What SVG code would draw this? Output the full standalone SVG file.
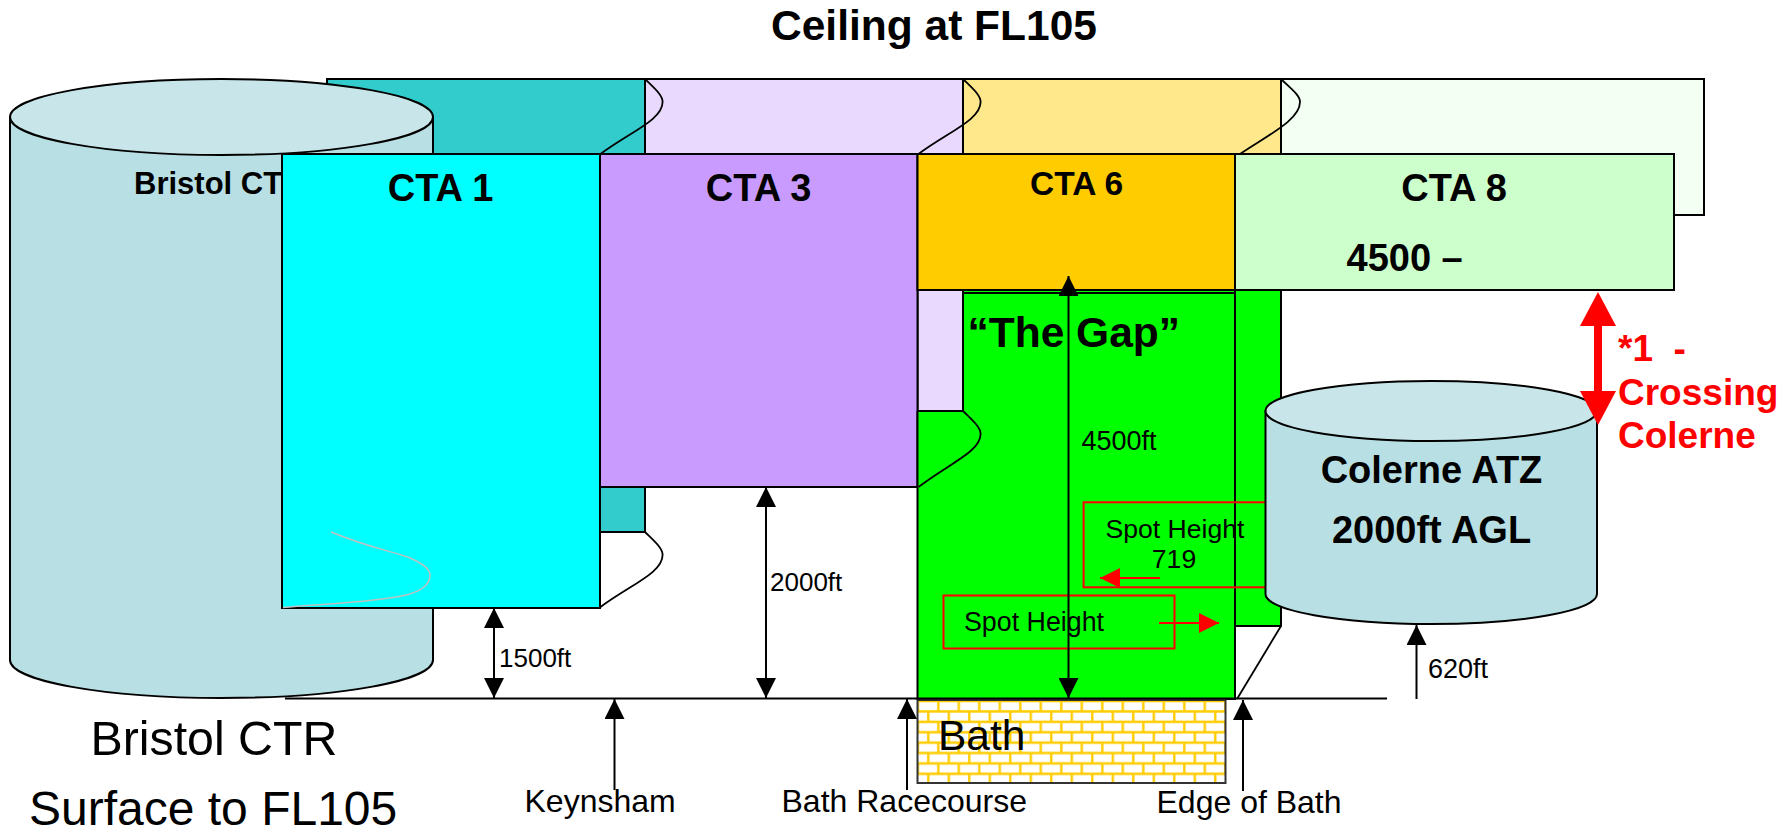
<svg xmlns="http://www.w3.org/2000/svg" width="1789" height="834" viewBox="0 0 1789 834">
<style>
text{font-family:"Liberation Sans",Arial,sans-serif;fill:#000}
.b{font-weight:bold}
.m{text-anchor:middle}
.s{stroke:#000;stroke-width:2}
.t{stroke:#000;stroke-width:1.8;fill:none}
.l{stroke:#000;stroke-width:2;fill:none}
.r{stroke:#f00;stroke-width:2;fill:none}
.red{fill:#f00;font-weight:bold;font-size:37px}
</style>
<defs>
<marker id="ah" viewBox="0 0 20 20" refX="20" refY="10" markerWidth="20" markerHeight="20" markerUnits="userSpaceOnUse" orient="auto-start-reverse"><path d="M0 0L20 10L0 20Z" fill="#000"/></marker>
<marker id="rh" viewBox="0 0 20 20" refX="20" refY="10" markerWidth="20" markerHeight="20" markerUnits="userSpaceOnUse" orient="auto-start-reverse"><path d="M0 0L20 10L0 20Z" fill="#f00"/></marker>
<marker id="bh" viewBox="0 0 34 36" refX="10" refY="18" markerWidth="34" markerHeight="36" markerUnits="userSpaceOnUse" orient="auto-start-reverse"><path d="M0 0L34 18L0 36Z" fill="#f00"/></marker>
<pattern id="brick" width="20.5" height="20.8" patternUnits="userSpaceOnUse" x="912.5" y="705">
<rect width="20.5" height="20.8" fill="#fff"/>
<path d="M0 6.500H20.500M0 16.900H20.500M5.300 0V6.500M5.300 16.900V20.800M15.800 6.500V16.900" stroke="#fc0" stroke-width="2.400" fill="none"/>
</pattern>
</defs>
<g id="title"><text class="b m" x="934" y="40" font-size="42.500">Ceiling at FL105</text></g>
<g id="back-cta">
<rect x="327" y="79" width="318" height="453" fill="#3cc" class="s"/>
<rect x="645" y="79" width="318" height="332" fill="#ead9ff" class="s"/>
<rect x="963" y="79" width="318" height="76" fill="#ffe88c" class="s"/>
<rect x="1281" y="79" width="423" height="136" fill="#f2fff2" class="s"/>
<rect x="917.5" y="290" width="46" height="121" fill="#ead9ff" class="s"/>
<rect x="963" y="290" width="318" height="336" fill="#0f0" class="s"/>
<path d="M645 79C654 88 662.600 95 662.600 102C662.600 120 630 132 600.500 154" class="t"/>
<path d="M963 79C972 88 980.600 95 980.600 102C980.600 120 948 132 918.500 154" class="t"/>
<path d="M1281 79C1290 88 1300 95 1300 102C1300 120 1268 135 1240 154" class="t"/>
<path d="M645 532C654 541 662.600 548 662.600 555C662.600 573 630 585 600.500 607" class="t"/>
<path d="M1281 626L1237 699" class="t"/>
</g>
<g id="bristol-cylinder">
<path d="M10 117V660A211.500 38 0 0 0 433 660V117Z" fill="#b8dfe3" class="s"/>
<ellipse cx="221.500" cy="117" rx="211.500" ry="38" fill="#c8e6e9" class="s"/>
<text class="b" x="134" y="193.500" font-size="31">Bristol CT</text>
</g>
<g id="cta1"><rect x="282" y="154" width="318" height="454" fill="#0ff" class="s"/>
<path d="M331 532C370 548 395 552 410 558C424 564 430 570 430 575C430 586 418 592 406 595C370 603 320 604 283 607.500" stroke="#c0c0c0" stroke-width="1.500" fill="none"/>
<text class="b m" x="440.500" y="201" font-size="38">CTA 1</text></g>
<g id="cta3"><rect x="600" y="154" width="317.500" height="333" fill="#c99bff" class="s"/><text class="b m" x="758.600" y="201" font-size="38">CTA 3</text></g>
<g id="gap"><rect x="917.500" y="411" width="46" height="288" fill="#0f0"/>
<rect x="963" y="293" width="272" height="406" fill="#0f0"/>
<path d="M917.500 411V699H1235V290" class="l"/>
<path d="M963 411C972 420 980.600 427 980.600 434C980.600 452 948 464 918.500 487" class="t"/>
<path d="M963 411H917.500M963 293H1235M963 293V411" class="l"/>
<text class="b" x="967.500" y="347" font-size="42.500">“The Gap”</text></g>
<g id="cta6"><rect x="917.500" y="154" width="317.500" height="136" fill="#fc0" class="s"/><text class="b m" x="1076.500" y="195" font-size="33.500">CTA 6</text></g>
<g id="cta8"><rect x="1235" y="154" width="439" height="136" fill="#cfc" class="s"/><text class="b m" x="1454" y="201" font-size="38">CTA 8</text><text class="b" x="1346.500" y="271" font-size="38">4500 –</text></g>
<g id="spot-719"><rect x="1083.600" y="502.300" width="190" height="85" class="r"/><text class="m" x="1175" y="538" font-size="26.600">Spot Height</text><text class="m" x="1174" y="568" font-size="26.600">719</text></g>
<g id="spot"><rect x="943.500" y="595.500" width="231" height="53" class="r"/><text x="964" y="631" font-size="26.800">Spot Height</text></g>
<g id="colerne">
<path d="M1265.500 411V594A165.750 30 0 0 0 1597 594V411Z" fill="#b8dfe3" class="s"/>
<ellipse cx="1431.250" cy="411" rx="165.750" ry="30" fill="#c8e6e9" class="s"/>
<text class="b m" x="1431.500" y="483" font-size="38">Colerne ATZ</text>
<text class="b m" x="1431.500" y="543" font-size="38">2000ft AGL</text>
</g>
<g id="bath"><rect x="917.500" y="700" width="308" height="83" fill="url(#brick)" stroke="#333" stroke-width="2"/><text x="938" y="750" font-size="42.500">Bath</text></g>
<g id="connectors">
<path d="M285 698.500H1387" class="l"/>
<path d="M494 608V698" class="l" marker-start="url(#ah)" marker-end="url(#ah)"/>
<path d="M766 487V698" class="l" marker-start="url(#ah)" marker-end="url(#ah)"/>
<path d="M1068.500 276V698" class="l" marker-start="url(#ah)" marker-end="url(#ah)"/>
<path d="M614.500 790V699" class="l" marker-end="url(#ah)"/>
<path d="M907 790V699" class="l" marker-end="url(#ah)"/>
<path d="M1243 791V700" class="l" marker-end="url(#ah)"/>
<path d="M1416.500 699V625" class="l" marker-end="url(#ah)"/>
<path d="M1160 578H1100" class="r" marker-end="url(#rh)"/>
<path d="M1159 623H1219" class="r" marker-end="url(#rh)"/>
<path d="M1598 316V401" stroke="#f00" stroke-width="8" fill="none" marker-start="url(#bh)" marker-end="url(#bh)"/>
</g>
<g id="labels">
<text x="1081.500" y="450" font-size="27">4500ft</text>
<text x="499" y="667" font-size="26">1500ft</text>
<text x="770" y="591" font-size="26">2000ft</text>
<text x="1428" y="678" font-size="27">620ft</text>
<text x="524.500" y="812" font-size="32">Keynsham</text>
<text x="781.500" y="812" font-size="32">Bath Racecourse</text>
<text x="1156.500" y="813" font-size="32">Edge of Bath</text>
<text x="90.500" y="755" font-size="48.300">Bristol CTR</text>
<text x="29" y="825" font-size="48">Surface to FL105</text>
<text class="red" x="1618" y="361">*1&#160;&#160;-</text>
<text class="red" x="1618" y="405">Crossing</text>
<text class="red" x="1618" y="448">Colerne</text>
</g>
</svg>
